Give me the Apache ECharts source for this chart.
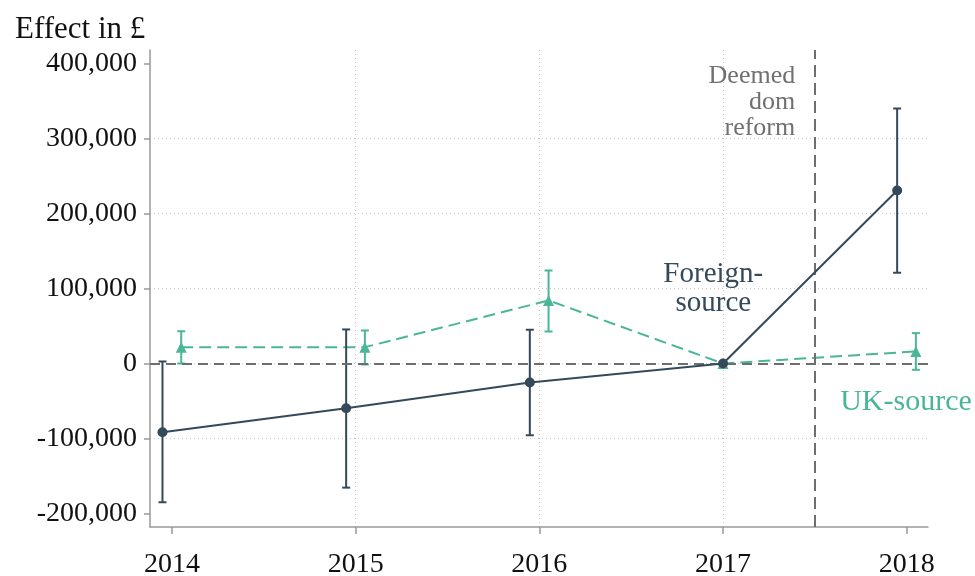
<html>
<head>
    <meta charset="utf-8"/>
    <title>Effect in £</title>
    <style>
        body { margin: 0; padding: 0; background: #fff; }
        #main { width: 975px; height: 576px; }
    </style>
    <script src="https://cdn.jsdelivr.net/npm/echarts@6/dist/echarts.min.js"></script>
</head>
<body>
<div id="main"></div>
<script type="text/javascript">
    // values
    let years = [2014, 2015, 2016, 2017, 2018];
    let foreignEst = [-91700, -59600, -25400, 0, 230600];
    let foreignLo = [-185000, -165500, -95700, 0, 121000];
    let foreignHi = [2700, 45400, 45000, 0, 340000];
    let ukEst = [21800, 21800, 84100, 0, 16000];
    let ukLo = [0, -1300, 42700, 0, -8400];
    let ukHi = [43000, 44000, 124000, 0, 40500];
    let yTicks = [-200000, -100000, 0, 100000, 200000, 300000, 400000];
    let reformYear = 2017.5;

    const FONT = '"Liberation Serif", "DejaVu Serif", serif';
    const C_FOR = '#34495a';
    const C_UK = '#4ab697';
    const C_REF = '#6e6e6e';

    // small horizontal offset so the two series don't overlap (none at base year 2017)
    function shift(y, d) { return y === 2017 ? y : y + d; }

    let forPts = years.map((y, i) => [shift(y, -0.052), foreignEst[i]]);
    let ukPts = years.map((y, i) => [shift(y, 0.05), ukEst[i]]);
    let forBars = years.map((y, i) => [shift(y, -0.052), foreignLo[i], foreignHi[i]]).filter(d => d[1] !== d[2]);
    let ukBars = years.map((y, i) => [shift(y, 0.05), ukLo[i], ukHi[i]]).filter(d => d[1] !== d[2]);

    function errorBar(color) {
        return function (params, api) {
            let lo = api.coord([api.value(0), api.value(1)]);
            let hi = api.coord([api.value(0), api.value(2)]);
            let w = 4;
            let style = { stroke: color, lineWidth: 2 };
            return {
                type: 'group',
                children: [
                    { type: 'line', shape: { x1: lo[0], y1: lo[1], x2: hi[0], y2: hi[1] }, style: style },
                    { type: 'line', shape: { x1: lo[0] - w, y1: lo[1], x2: lo[0] + w, y2: lo[1] }, style: style },
                    { type: 'line', shape: { x1: hi[0] - w, y1: hi[1], x2: hi[0] + w, y2: hi[1] }, style: style }
                ]
            };
        };
    }

    function note(text, size, color, align) {
        return {
            show: true, position: 'inside', align: align, verticalAlign: 'middle',
            formatter: text,
            fontFamily: FONT, fontSize: size, lineHeight: Math.round(size * 1.0),
            color: color, textBorderWidth: 0, opacity: 1
        };
    }

    let myChart = echarts.init(document.getElementById('main'));

    let option = {
        animation: false,
        title: {
            text: 'Effect in £',
            left: 10,
            top: 9,
            textStyle: { fontFamily: FONT, fontSize: 31, fontWeight: 'normal', color: '#111' }
        },
        grid: { left: 150, right: 47, top: 50, bottom: 49, outerBoundsMode: 'none' },
        xAxis: {
            type: 'value',
            min: 2013.88,
            max: 2018.116,
            axisLine: { onZero: false, lineStyle: { color: '#999', width: 1.5 } },
            axisTick: { customValues: years, length: 7, lineStyle: { color: '#999', width: 1.5 } },
            axisLabel: {
                customValues: years,
                margin: 24,
                fontFamily: FONT, fontSize: 28, color: '#111',
                formatter: v => String(v)
            },
            splitLine: {
                show: true, showMinLine: false, showMaxLine: false,
                lineStyle: { color: '#c8c8c8', type: [1, 3], width: 1 }
            }
        },
        yAxis: {
            type: 'value',
            min: -218000,
            max: 418000,
            axisLine: { show: true, onZero: false, lineStyle: { color: '#999', width: 1.5 } },
            axisTick: { show: true, customValues: yTicks, length: 6, lineStyle: { color: '#999', width: 1.5 } },
            axisLabel: {
                customValues: yTicks,
                margin: 13,
                fontFamily: FONT, fontSize: 28, color: '#111',
                formatter: v => v.toLocaleString('en-US')
            },
            splitLine: {
                show: true, showMinLine: false, showMaxLine: false,
                lineStyle: { color: '#c8c8c8', type: [1, 3], width: 1 }
            }
        },
        series: [
            {
                name: 'ref',
                type: 'line',
                data: [],
                z: 1,
                markLine: {
                    silent: true,
                    symbol: 'none',
                    label: { show: false },
                    data: [
                        { yAxis: 0, lineStyle: { color: C_REF, type: [10, 6], width: 1.8 } },
                        { xAxis: reformYear, lineStyle: { color: C_REF, type: [12, 6], width: 2 } }
                    ]
                }
            },
            {
                name: 'UK-source bars',
                type: 'custom',
                renderItem: errorBar(C_UK),
                data: ukBars,
                z: 2
            },
            {
                name: 'UK-source',
                type: 'line',
                data: ukPts,
                symbol: 'triangle',
                symbolSize: 11,
                itemStyle: { color: C_UK },
                lineStyle: { color: C_UK, width: 2, type: [12, 6] },
                z: 3
            },
            {
                name: 'Foreign-source bars',
                type: 'custom',
                renderItem: errorBar(C_FOR),
                data: forBars,
                z: 4
            },
            {
                name: 'Foreign-source',
                type: 'line',
                data: forPts,
                symbol: 'circle',
                symbolSize: 10,
                itemStyle: { color: C_FOR },
                lineStyle: { color: C_FOR, width: 2 },
                z: 5
            },
            {
                name: 'labels',
                type: 'scatter',
                symbolSize: 0,
                silent: true,
                z: 6,
                itemStyle: { opacity: 1 },
                data: [
                    { value: [2017.393, 348000], label: note('Deemed\ndom\nreform', 26, '#707070', 'right') },
                    { value: [2016.947, 99500], label: note('Foreign-\nsource', 29, C_FOR, 'center') },
                    { value: [2017.638, -52000], label: note('UK-source', 30, C_UK, 'left') }
                ]
            }
        ]
    };

    myChart.setOption(option);
</script>
</body>
</html>
